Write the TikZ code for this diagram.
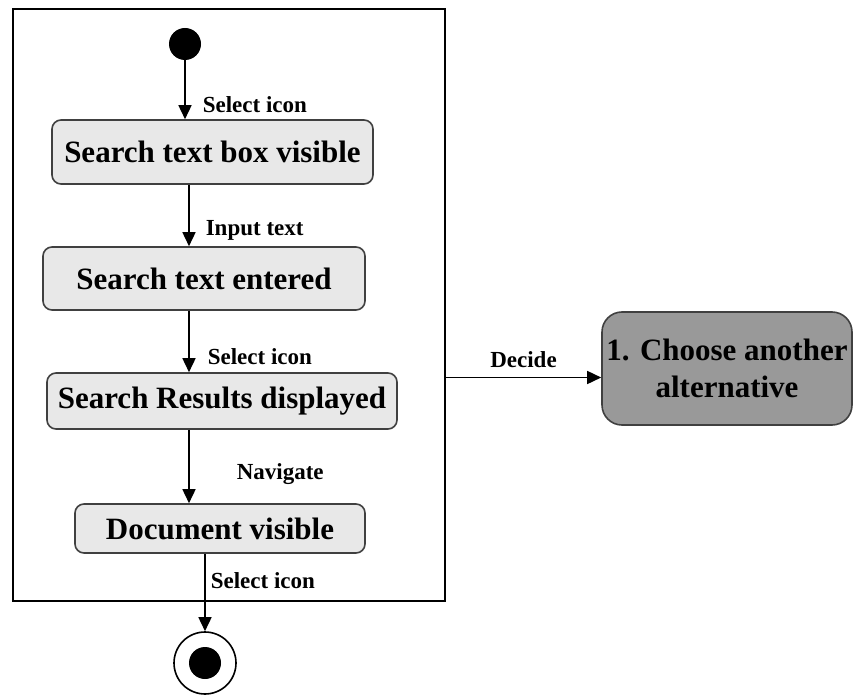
\documentclass[tikz,border=0pt]{standalone}
\usepackage{fontspec}
\setmainfont{Liberation Serif}
\usetikzlibrary{shapes,arrows,positioning,calc,arrows.meta}

\tikzset{
  state/.style={draw=black!75, line width=1.6pt, fill=black!9, rounded corners=9pt,
    inner sep=0pt, font=\fontsize{31}{36}\selectfont\bfseries},
  flow/.style={line width=1.6pt, -{Triangle[length=14pt,width=13pt]}},
  lbl/.style={inner sep=0pt, font=\fontsize{23}{26}\selectfont\bfseries},
}

\begin{document}
\begin{tikzpicture}[x=1pt,y=-1pt]
        \useasboundingbox (0,0) rectangle (854,695);
        \node[draw, line width=1.6pt, minimum width=432pt, minimum height=592pt, inner sep=0pt] (frame) at (229,305) {};

        \node[circle, fill=black, minimum size=32pt, inner sep=0pt] (start) at (185,44) {};
        \node[state, minimum width=321pt, minimum height=64pt] (s1) at (212.5,152) {Search text box visible};
        \node[state, minimum width=322pt, minimum height=63pt] (s2) at (204,278.5) {Search text entered};
        \node[state, minimum width=350pt, minimum height=56pt] (s3) at (222,401) {Search Results displayed};
        \node[state, minimum width=290pt, minimum height=49pt] (s4) at (220,528.5) {Document visible};
        \node[circle, draw, line width=1.6pt, minimum size=62pt, inner sep=0pt,
              path picture={\fill (path picture bounding box.center) circle (16pt);}] (stop) at (205,663) {};
        \node[state, fill=black!40, rounded corners=20pt, minimum width=250pt, minimum height=113pt,
              align=center, font=\fontsize{31}{37}\selectfont\bfseries] (alt) at (727,368.5) {1. Choose another\\alternative};

        \draw[flow] (start) -- (start |- s1.north) node[lbl, pos=0.75, right=17pt] {Select icon};
        \draw[flow] (s1.south -| 189,0) -- (s2.north -| 189,0) node[lbl, pos=0.75, right=16pt] {Input text};
        \draw[flow] (s2.south -| 189,0) -- (s3.north -| 189,0) node[lbl, pos=0.75, right=18pt] {Select icon};
        \draw[flow] (s3.south -| 189,0) -- (s4.north -| 189,0) node[lbl, pos=0.6, right=47pt] {Navigate};
        \draw[flow] (s4.south -| stop.north) -- (stop.north) node[lbl, pos=0.35, right=5pt] {Select icon};
        \draw[flow] ([yshift=-9pt]alt.west -| frame.east) -- ([yshift=-9pt]alt.west) node[lbl, midway, above=9pt] {Decide};
    \end{tikzpicture}
\end{document}
